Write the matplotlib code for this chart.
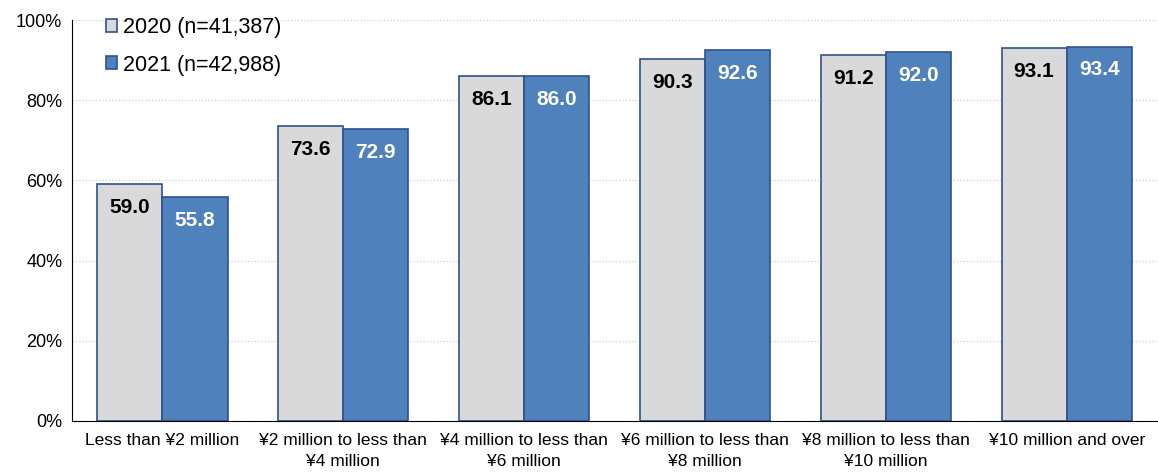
import numpy as np
import matplotlib.pyplot as plt

plt.rcParams['font.family'] = ['Liberation Sans', 'DejaVu Sans']

categories = ["Less than ¥2 million", "¥2 million to less than\n¥4 million",
              "¥4 million to less than\n¥6 million", "¥6 million to less than\n¥8 million",
              "¥8 million to less than\n¥10 million", "¥10 million and over"]
vals_2020 = [59.0, 73.6, 86.1, 90.3, 91.2, 93.1]
vals_2021 = [55.8, 72.9, 86.0, 92.6, 92.0, 93.4]
labels = ["2020 (n=41,387)", "2021 (n=42,988)"]

fig = plt.figure(figsize=(11.58, 4.75), dpi=100)
ax = fig.add_axes([0.0622, 0.1137, 0.937, 0.844])

x = np.arange(len(categories))
w = 0.36
b1 = ax.bar(x - w / 2, vals_2020, w, color='#D9D9D9', edgecolor='#2F528F', linewidth=1.2, label=labels[0])
b2 = ax.bar(x + w / 2, vals_2021, w, color='#4F81BD', edgecolor='#2F528F', linewidth=1.2, label=labels[1])

for bars, vals, col in ((b1, vals_2020, 'black'), (b2, vals_2021, 'white')):
    for r, v in zip(bars, vals):
        ax.annotate(f"{v:.1f}", (r.get_x() + r.get_width() / 2, v), xytext=(0, -10),
                    textcoords='offset points', ha='center', va='top',
                    fontsize=15, fontweight='bold', color=col)

ax.set_xlim(-0.5, len(categories) - 0.5)
ax.set_ylim(0, 100)
ax.set_yticks(np.arange(0, 101, 20))
ax.set_yticklabels([f"{t}%" for t in range(0, 101, 20)], fontsize=13)
ax.set_xticks(x)
ax.set_xticklabels(categories, fontsize=12.5, linespacing=1.45)
ax.tick_params(axis='both', length=0, pad=7)
ax.tick_params(axis='x', pad=9)
ax.yaxis.grid(True, color='#D0D0D0', linestyle=':', linewidth=0.9)
ax.set_axisbelow(True)
for s in ('top', 'right'):
    ax.spines[s].set_visible(False)
ax.spines['left'].set_color('black')
ax.spines['bottom'].set_color('black')

ax.legend(loc='upper left', bbox_to_anchor=(0.013, 1.055), frameon=False, fontsize=15.5,
          handlelength=0.55, handleheight=0.55, handletextpad=0.25, labelspacing=0.75)

fig.savefig('out.png', dpi=100)
